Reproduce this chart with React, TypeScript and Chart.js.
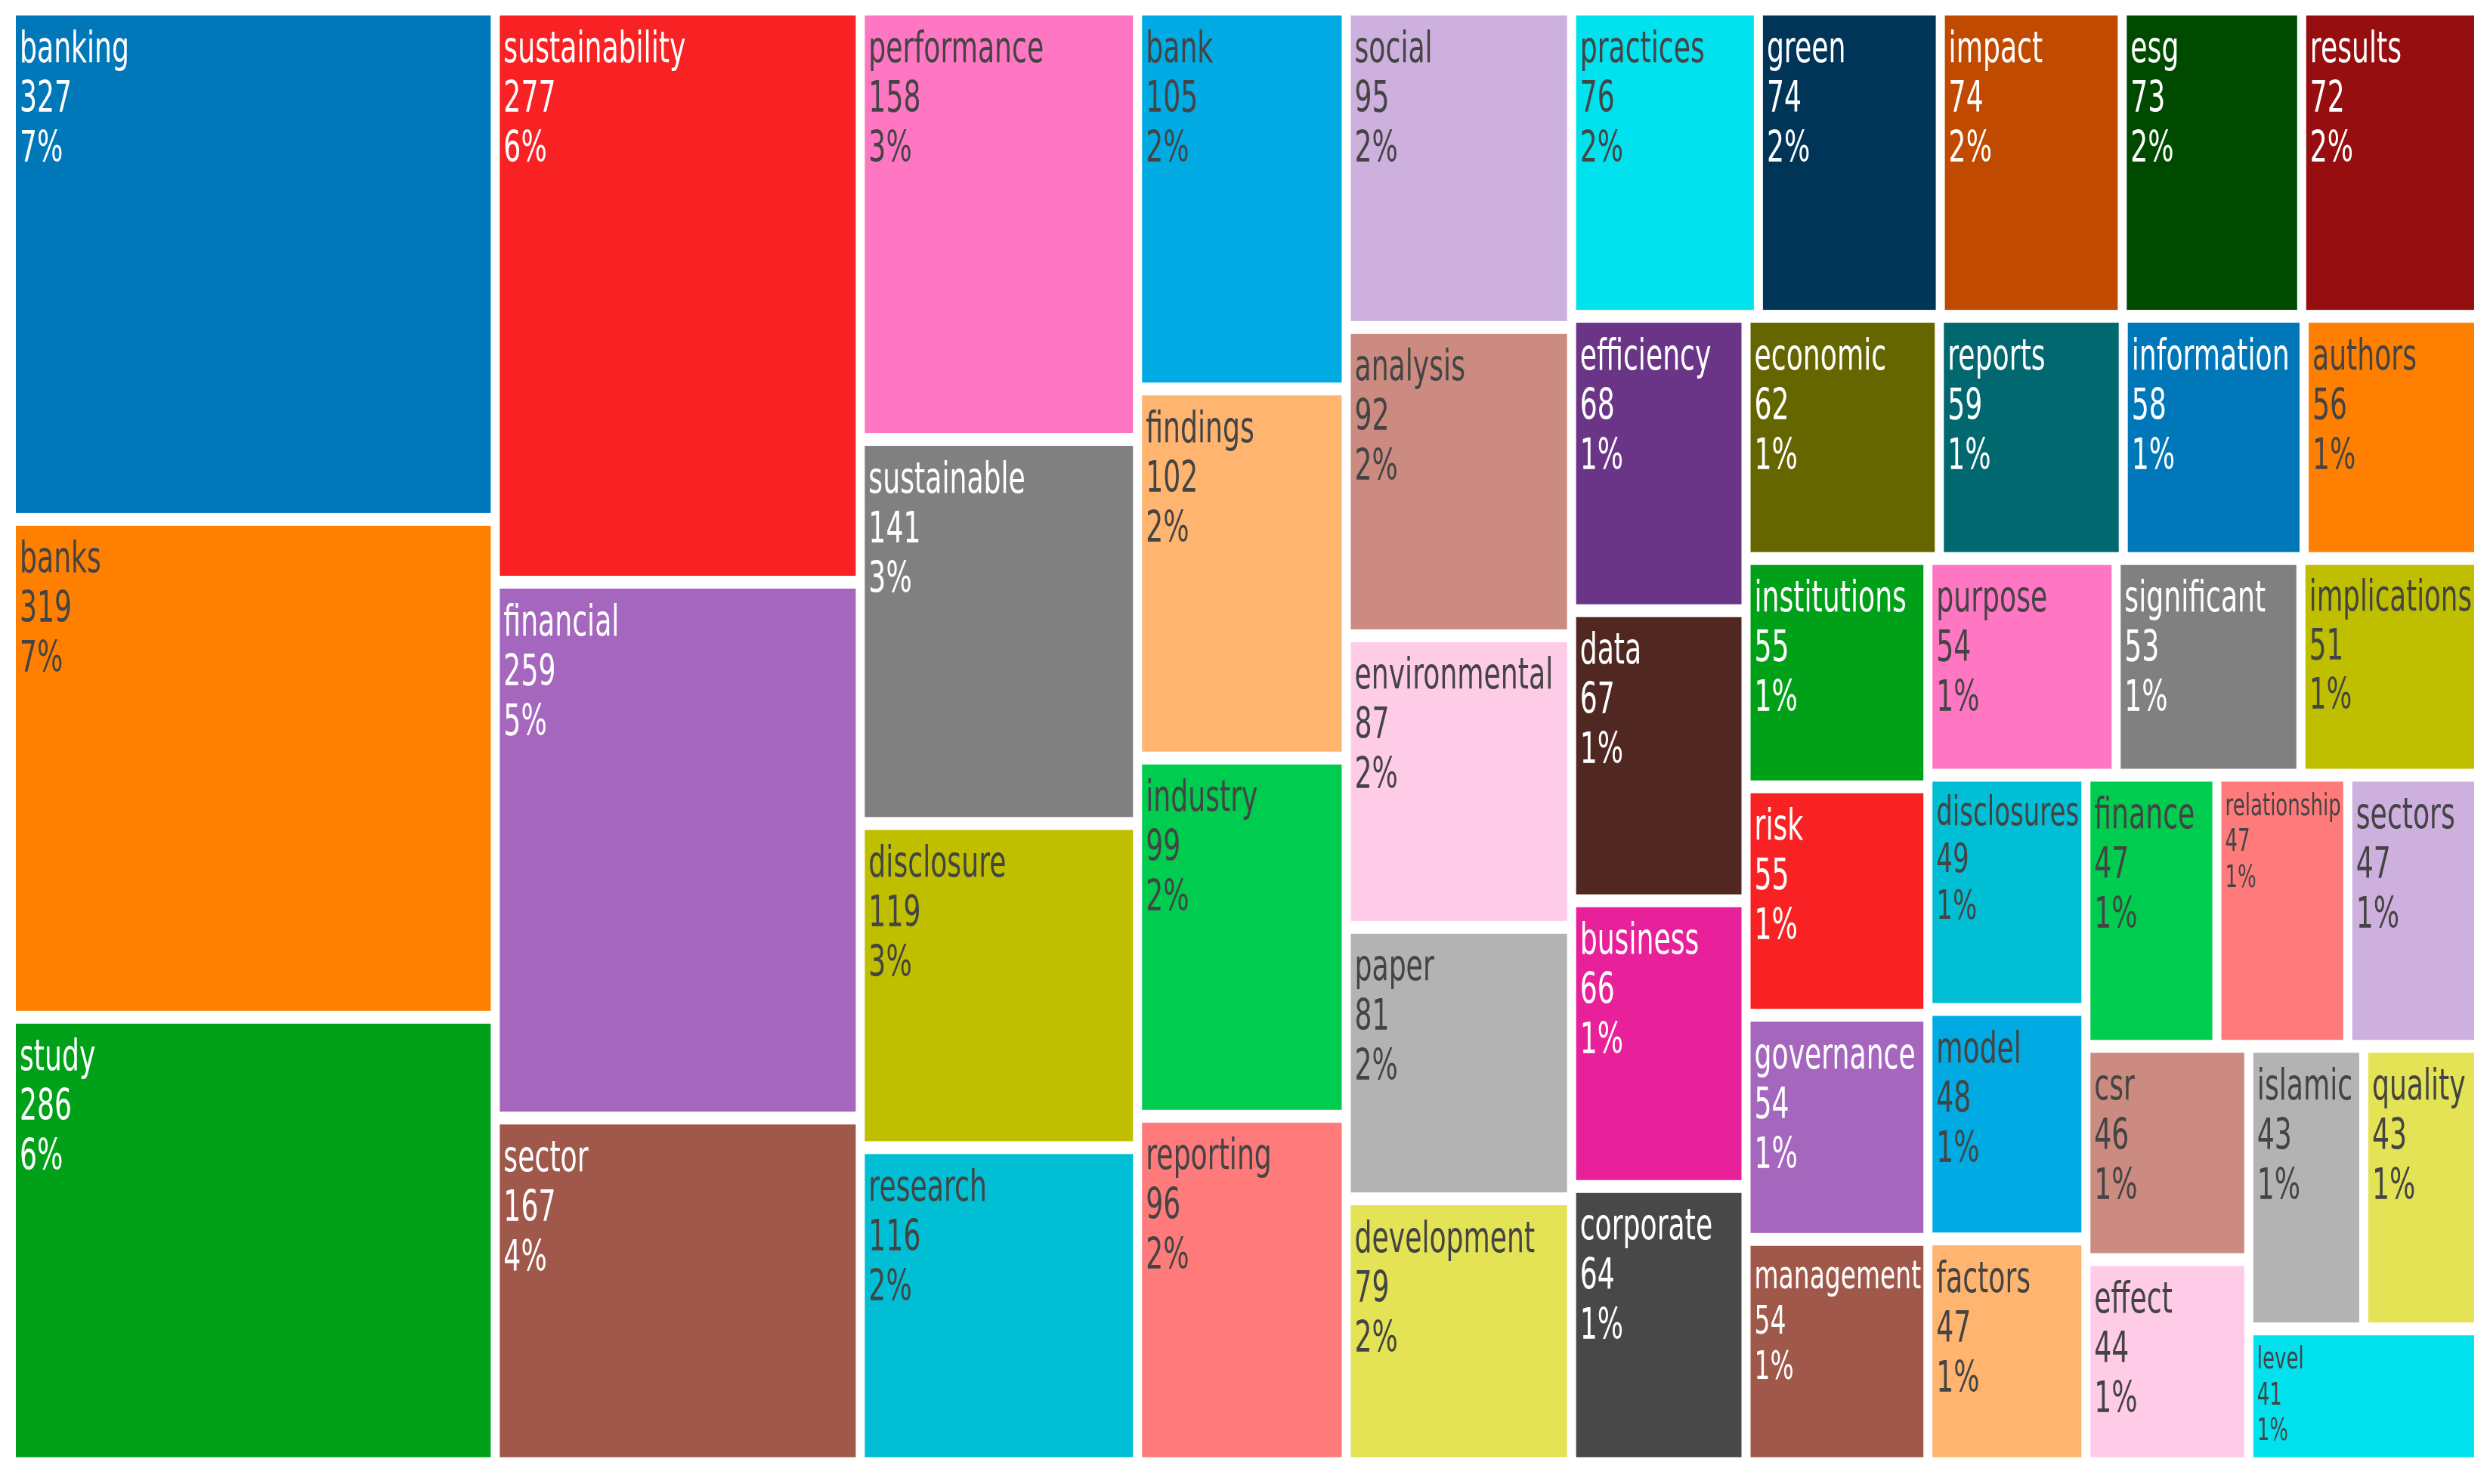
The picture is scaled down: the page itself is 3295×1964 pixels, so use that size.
import React, { useEffect, useRef } from "react";
import { Chart, registerables } from "chart.js";

Chart.register(...registerables);

// ---- data (sorted by frequency, as in the source treemap) ----
const terms: string[] = [
  "banking", "banks", "study", "sustainability", "financial", "sector", "performance", "sustainable",
  "disclosure", "research", "bank", "findings", "industry", "reporting", "social", "analysis",
  "environmental", "paper", "development", "practices", "green", "impact", "esg", "results",
  "efficiency", "data", "business", "corporate", "economic", "reports", "information", "authors",
  "institutions", "risk", "governance", "management", "purpose", "significant", "implications",
  "disclosures", "model", "factors", "finance", "relationship", "sectors", "csr", "effect",
  "islamic", "quality", "level",
];

const counts: number[] = [
  327, 319, 286, 277, 259, 167, 158, 141,
  119, 116, 105, 102, 99, 96, 95, 92,
  87, 81, 79, 76, 74, 74, 73, 72,
  68, 67, 66, 64, 62, 59, 58, 56,
  55, 55, 54, 54, 54, 53, 51,
  49, 48, 47, 47, 47, 47, 46, 44,
  43, 43, 41,
];

// ---- styling ----
const palette: string[] = [
  "#0077b8", "#ff8000", "#00a118", "#f82224", "#a566be", "#9f584a", "#ff77c3", "#808080", "#bfbf00", "#00bfd4",
  "#00abe4", "#ffb470", "#00cc50", "#ff7b7b", "#cdb0dd", "#cc8b80", "#ffcce8", "#b3b3b3", "#e3e355", "#00e2ee",
  "#003558", "#c04a00", "#004a00", "#960e10", "#6a3586", "#512722", "#e8219a", "#484848", "#666600", "#00686e",
];
const W_TXT = "#ffffff";
const D_TXT = "#444444";
const paletteText: string[] = [
  W_TXT, D_TXT, W_TXT, W_TXT, W_TXT, W_TXT, D_TXT, W_TXT, D_TXT, D_TXT,
  D_TXT, D_TXT, D_TXT, D_TXT, D_TXT, D_TXT, D_TXT, D_TXT, D_TXT, D_TXT,
  W_TXT, W_TXT, W_TXT, W_TXT, W_TXT, W_TXT, W_TXT, W_TXT, W_TXT, W_TXT,
];

// layout domain aspect used by the squarified tiling (the original plot was wider)
const LAYOUT_W = 2.395;
const LAYOUT_H = 1;

type Rect = { x0: number; y0: number; x1: number; y1: number };

// port of d3-hierarchy squarify (ratio 1)
function squarify(values: number[], X0: number, Y0: number, X1: number, Y1: number, ratio = 1): Rect[] {
  const rects: Rect[] = new Array(values.length);
  const n = values.length;
  let i0 = 0;
  let i1 = 0;
  let x0 = X0, y0 = Y0, x1 = X1, y1 = Y1;
  let value = values.reduce((a, b) => a + b, 0);
  while (i0 < n) {
    const dx = x1 - x0;
    const dy = y1 - y0;
    let sumValue = values[i1++];
    let minValue = sumValue;
    let maxValue = sumValue;
    const alpha = Math.max(dy / dx, dx / dy) / (value * ratio);
    let beta = sumValue * sumValue * alpha;
    let minRatio = Math.max(maxValue / beta, beta / minValue);
    for (; i1 < n; ++i1) {
      const nv = values[i1];
      sumValue += nv;
      if (nv < minValue) minValue = nv;
      if (nv > maxValue) maxValue = nv;
      beta = sumValue * sumValue * alpha;
      const newRatio = Math.max(maxValue / beta, beta / minValue);
      if (newRatio > minRatio) {
        sumValue -= nv;
        break;
      }
      minRatio = newRatio;
    }
    if (dx < dy) {
      const ny = value ? y0 + (dy * sumValue) / value : y1;
      const k = (x1 - x0) / sumValue;
      let x = x0;
      for (let i = i0; i < i1; i++) {
        const w = values[i] * k;
        rects[i] = { x0: x, x1: x + w, y0: y0, y1: ny };
        x += w;
      }
      y0 = ny;
    } else {
      const nx = value ? x0 + (dx * sumValue) / value : x1;
      const k = (y1 - y0) / sumValue;
      let y = y0;
      for (let i = i0; i < i1; i++) {
        const h = values[i] * k;
        rects[i] = { x0: x0, x1: nx, y0: y, y1: y + h };
        y += h;
      }
      x0 = nx;
    }
    value -= sumValue;
    i0 = i1;
  }
  return rects;
}

export default function App() {
  const canvasRef = useRef<HTMLCanvasElement | null>(null);

  useEffect(() => {
    const canvas = canvasRef.current;
    if (!canvas) return;
    const total = counts.reduce((a, b) => a + b, 0);
    const rects = squarify(counts, 0, 0, LAYOUT_W, LAYOUT_H, 1);

    const tilesPlugin = {
      id: "treemapTiles",
      afterDatasetsDraw(chart: any) {
        const { ctx } = chart;
        const xs = chart.scales.x;
        const ys = chart.scales.y;
        const gx = 6;
        const gy = 8.5;
        const baseFont = 57;
        const lineH = 66 / 57;
        const sx = 0.635;
        rects.forEach((r, i) => {
          const px0 = xs.getPixelForValue(r.x0) + gx;
          const px1 = xs.getPixelForValue(r.x1) - gx;
          const py0 = ys.getPixelForValue(r.y0) + gy;
          const py1 = ys.getPixelForValue(r.y1) - gy;
          const w = px1 - px0;
          const h = py1 - py0;
          ctx.save();
          ctx.fillStyle = palette[i % palette.length];
          ctx.fillRect(px0, py0, w, h);

          const lines = [terms[i], String(counts[i]), Math.round((counts[i] / total) * 100) + "%"];
          ctx.font = `${baseFont}px "DejaVu Sans", Verdana, sans-serif`;
          const tw = Math.max(...lines.map((l) => ctx.measureText(l).width)) * sx;
          const s = Math.min(1, (w - 8) / tw, (h - 4) / (baseFont * 3 * 1.28));
          const fs = baseFont * s;
          ctx.beginPath();
          ctx.rect(px0, py0, w, h);
          ctx.clip();
          ctx.font = `${fs}px "DejaVu Sans", Verdana, sans-serif`;
          ctx.fillStyle = paletteText[i % paletteText.length];
          ctx.textBaseline = "alphabetic";
          ctx.textAlign = "left";
          ctx.translate(px0 + 5, py0);
          ctx.scale(sx, 1);
          lines.forEach((l, j) => {
            ctx.fillText(l, 0, fs * 1.08 + j * fs * lineH);
          });
          ctx.restore();
        });
      },
    };

    const chart = new Chart(canvas, {
      type: "scatter",
      data: {
        datasets: [
          {
            label: "terms",
            data: rects.map((r) => ({ x: (r.x0 + r.x1) / 2, y: (r.y0 + r.y1) / 2 })),
            pointRadius: 0,
            pointHoverRadius: 0,
          },
        ],
      },
      options: {
        animation: false,
        responsive: false,
        maintainAspectRatio: false,
        devicePixelRatio: 1,
        layout: { padding: { left: 15, top: 12, right: 15, bottom: 27 } },
        events: [],
        plugins: {
          legend: { display: false },
          tooltip: { enabled: false },
          title: { display: false },
        },
        scales: {
          x: { type: "linear", min: 0, max: LAYOUT_W, display: false },
          y: { type: "linear", min: 0, max: LAYOUT_H, reverse: true, display: false },
        },
      },
      plugins: [tilesPlugin],
    });
    return () => chart.destroy();
  }, []);

  return (
    <div style={{ position: "fixed", left: 0, top: 0, width: 3295, height: 1964, background: "#ffffff" }}>
      <canvas ref={canvasRef} width={3295} height={1964} style={{ display: "block", width: 3295, height: 1964 }} />
    </div>
  );
}
